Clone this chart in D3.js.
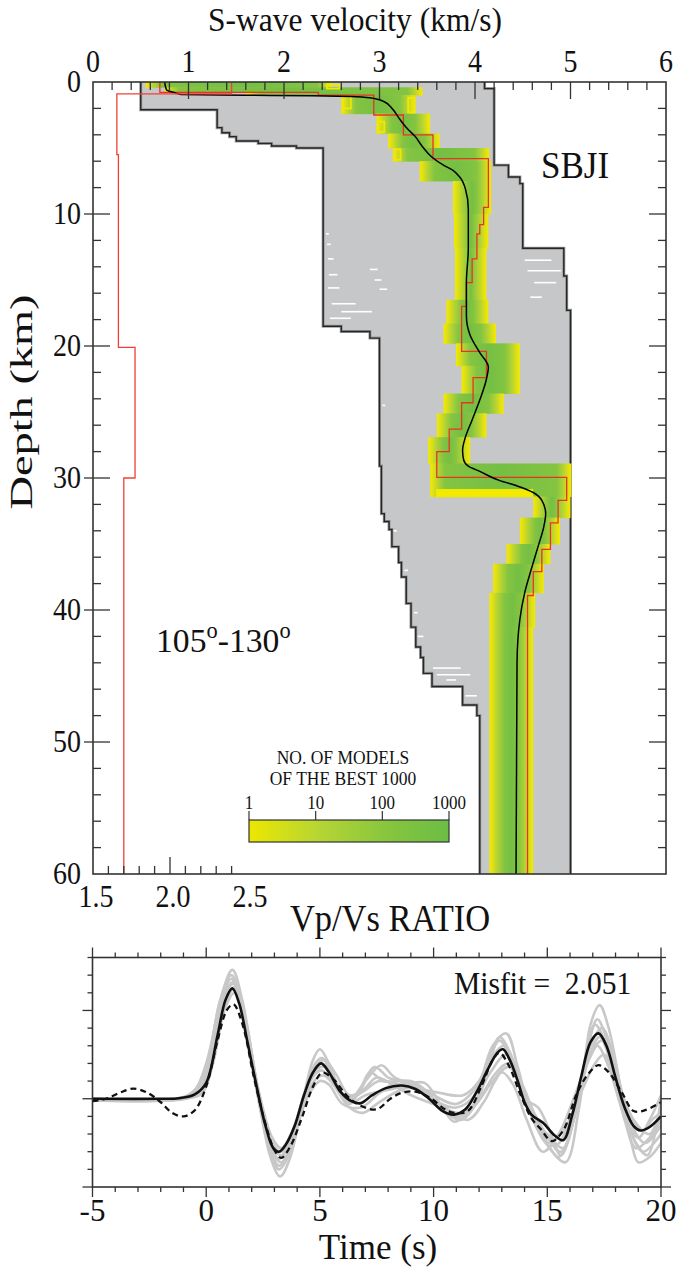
<!DOCTYPE html>
<html><head><meta charset="utf-8">
<script src="https://cdn.jsdelivr.net/npm/d3@7"></script>
<style>
body{margin:0;background:#fff}
text{font-family:"Liberation Serif","Times New Roman",serif;fill:#111}
</style></head>
<body><svg id="c" width="685" height="1272"></svg>
<script>
// ---------------- DATA ----------------
const velocityTicks = [0,1,2,3,4,5,6];
const depthTicks = [0,10,20,30,40,50,60];
const vpvsTicks = [1.5,2.0,2.5];
const timeTicks = [-5,0,5,10,15,20];
const legendTicks = ["1","10","100","1000"];

// gray envelope (all tested models): layers [topDepth, bottomDepth, velocity]
const grayLeftTop    = [0,2.1,3.46,3.84,4.14,4.47,4.65,4.85,5.0,18.5,18.9,19.4,29.1,32.7,33.3,33.9,35.2,36.4,37.5,39.5,41.3,42.8,43.6,44.8,45.8,47.2,48.0];
const grayLeftBottom = [2.1,3.46,3.84,4.14,4.47,4.65,4.85,5.0,18.5,18.9,19.4,29.1,32.7,33.3,33.9,35.2,36.4,37.5,39.5,41.3,42.8,43.6,44.8,45.8,47.2,48.0,60];
const grayLeftVel    = [0.50,1.30,1.35,1.43,1.50,1.73,1.87,2.13,2.41,2.60,2.90,3.00,3.02,3.05,3.10,3.13,3.20,3.23,3.28,3.33,3.38,3.43,3.46,3.55,3.87,4.02,4.05];
const grayRightTop    = [0,0.5,6.3,7.2,7.7,12.6,14.7,17.3];
const grayRightBottom = [0.5,6.3,7.2,7.7,12.6,14.7,17.3,60];
const grayRightVel    = [4.10,4.20,4.35,4.47,4.50,4.93,4.96,5.00];
// white gaps inside the envelope: [depth, v from, v to]
const gapDepth = [11.5,12.3,13.4,14.6,15.6,16.8,17.4,17.9,14.2,15.0,15.7,44.4,44.9,45.3,46.5,40.2,42.0,24.5,34.0,37.0,13.5,14.3,15.2,16.3];
const gapFrom  = [2.44,2.45,2.46,2.47,2.46,2.50,2.60,2.48,2.90,2.95,3.00,3.56,3.60,3.70,3.90,3.36,3.40,3.03,3.14,3.26,4.52,4.55,4.62,4.58];
const gapTo    = [2.47,2.49,2.52,2.56,2.58,2.75,2.92,2.70,2.98,3.02,3.08,3.85,3.95,3.80,4.02,3.40,3.46,3.06,3.18,3.30,4.80,4.90,4.85,4.70];

// density band of the best 1000 models: [top, bottom, left v, right v]
const bandTop    = [0,0.4,0.8,1.0,2.4,3.9,5.0,6.0,7.5,10,12.6,16.5,18.3,19.8,21.5,23.6,25.1,26.9,28.9,31.4,33.0,35.0,36.5,38.7,41.3];
const bandBottom = [0.4,0.8,1.0,2.4,3.9,5.0,6.0,7.5,10,12.6,16.5,18.3,19.8,21.5,23.6,25.1,26.9,28.9,31.4,33.0,35.0,36.5,38.7,41.3,60];
const bandLeft   = [0.55,0.75,1.60,2.60,2.97,3.09,3.14,3.42,3.77,3.78,3.79,3.70,3.67,3.80,3.86,3.67,3.60,3.51,3.53,4.61,4.47,4.33,4.19,4.15,4.15];
const bandRight  = [2.50,3.45,3.45,3.37,3.53,3.63,4.15,4.17,4.17,4.14,4.12,4.14,4.22,4.47,4.47,4.30,4.12,3.95,5.01,5.00,4.89,4.79,4.72,4.63,4.61];
// yellow rims of rarely sampled models: [top, bottom, left v, right v]
const rimTop    = [30.9,0.2,1.1,3.0,5.1,1.2];
const rimBottom = [31.4,0.5,2.0,3.8,5.9,2.3];
const rimLeft   = [3.60,2.45,2.62,2.98,3.16,3.30];
const rimRight  = [4.60,2.58,2.70,3.05,3.22,3.37];

// best model Vs (red step): layer tops and velocities
const bestTop = [0,0.78,1.0,2.5,4.0,5.8,9.5,10.8,11.5,13.4,15.2,17.0,20.4,22.4,24.3,26.3,28.0,29.95,31.7,33.4,35.4,37.1,38.9];
const bestVel = [0.70,2.36,2.94,3.25,3.56,4.14,4.09,4.05,4.02,3.97,3.91,3.86,4.12,3.98,3.86,3.73,3.60,4.96,4.87,4.79,4.70,4.61,4.55];

// mean model (black smooth)
const meanDepth = [0,0.6,0.8,0.95,1.0,1.05,1.1,1.2,1.5,2.0,2.8,3.6,4.1,4.9,5.7,6.3,6.7,7.2,8.1,9.6,12.6,15.2,17.7,19.2,20.5,21.6,22.5,24.1,25.6,26.9,27.9,28.6,29.1,29.5,30.2,30.6,31.1,31.7,32.7,33.7,35.2,36.9,38.7,40.7,44,60];
const meanVel   = [0.75,0.77,0.85,0.92,1.6,2.3,2.7,2.9,3.05,3.13,3.21,3.30,3.37,3.45,3.55,3.67,3.77,3.84,3.90,3.93,3.93,3.91,3.91,3.95,4.05,4.14,4.12,4.05,3.97,3.90,3.87,3.88,3.93,4.05,4.26,4.44,4.61,4.70,4.74,4.72,4.66,4.59,4.52,4.47,4.44,4.43];

// Vp/Vs ratio (red step)
const vpvsTop = [0,0.9,5.5,20.1,30.0];
const vpvsVal = [2.40,1.655,1.665,1.773,1.70];

// receiver functions
const obsWave = [[-5,0],[-2,0],[-1.2,0.003],[-0.5,0.025],[0,0.09],[0.5,0.36],[0.85,0.56],[1.15,0.625],[1.45,0.54],[1.8,0.33],[2.2,0.08],[2.6,-0.15],[2.95,-0.28],[3.2,-0.30],[3.5,-0.26],[3.9,-0.15],[4.3,0.02],[4.7,0.15],[5.05,0.2],[5.4,0.15],[5.9,0.04],[6.4,-0.015],[6.8,-0.025],[7.3,0.02],[7.9,0.06],[8.6,0.075],[9.2,0.055],[9.8,0.0],[10.4,-0.07],[10.9,-0.09],[11.4,-0.06],[11.9,0.04],[12.4,0.17],[12.8,0.26],[13.05,0.28],[13.35,0.22],[13.7,0.1],[14.0,-0.02],[14.3,-0.09],[14.8,-0.135],[15.3,-0.205],[15.7,-0.235],[16.1,-0.09],[16.5,0.13],[16.9,0.32],[17.25,0.37],[17.6,0.3],[18.0,0.12],[18.4,-0.05],[18.8,-0.155],[19.1,-0.18],[19.5,-0.16],[20,-0.1]];
const dashWave = [[-5,-0.013],[-4.4,0],[-3.8,0.034],[-3.2,0.057],[-2.6,0.035],[-2.0,-0.02],[-1.5,-0.08],[-1.0,-0.1],[-0.5,-0.065],[0,0.07],[0.5,0.33],[0.9,0.5],[1.2,0.535],[1.6,0.42],[2.1,0.12],[2.6,-0.14],[3.0,-0.29],[3.3,-0.335],[3.7,-0.27],[4.2,-0.11],[4.7,0.07],[5.1,0.147],[5.6,0.11],[6.2,0.015],[6.8,-0.04],[7.5,-0.06],[8.1,0.0],[8.6,0.034],[9.2,0.04],[9.9,0.0],[10.5,-0.06],[10.9,-0.08],[11.5,-0.07],[12.1,0.07],[12.6,0.22],[12.9,0.26],[13.3,0.19],[13.8,0.03],[14.3,-0.11],[14.7,-0.17],[15.2,-0.24],[15.7,-0.18],[16.3,0.03],[16.8,0.14],[17.25,0.19],[17.7,0.15],[18.3,0.03],[18.8,-0.07],[19.3,-0.065],[20,-0.02]];
const grayWave1 = [[-5,0],[-1.5,0],[-0.6,0.03],[0,0.18],[0.6,0.55],[1.15,0.73],[1.6,0.55],[2.2,0.1],[2.8,-0.32],[3.25,-0.44],[3.7,-0.33],[4.3,0.02],[4.7,0.22],[5.0,0.28],[5.4,0.2],[6.0,0.03],[6.6,0.02],[7.4,0.18],[8.0,0.12],[8.5,0.1],[9.3,0.06],[10.2,-0.02],[11.0,-0.05],[11.8,0.02],[12.6,0.3],[13.2,0.37],[13.7,0.18],[14.3,-0.1],[15.1,-0.28],[15.8,-0.36],[16.4,-0.05],[16.9,0.42],[17.3,0.53],[17.7,0.4],[18.3,0.0],[18.7,-0.25],[19.0,-0.36],[19.5,-0.33],[20,-0.25]];
const grayWave2 = [[-5,-0.01],[-1.2,0],[-0.5,0.05],[0,0.2],[0.6,0.52],[1.1,0.68],[1.6,0.5],[2.2,0.06],[2.8,-0.3],[3.2,-0.40],[3.7,-0.3],[4.3,0.0],[4.8,0.2],[5.1,0.23],[5.6,0.12],[6.2,-0.02],[7.0,0.1],[7.7,0.19],[8.3,0.12],[9.5,0.06],[10.4,-0.06],[11.2,-0.12],[11.9,-0.02],[12.5,0.22],[12.9,0.35],[13.4,0.25],[14.0,0.0],[14.6,-0.15],[15.5,-0.33],[16.2,-0.1],[16.8,0.3],[17.2,0.45],[17.7,0.3],[18.4,-0.08],[19.2,-0.30],[20,-0.2]];
const grayWave3 = [[-5,0],[-1.0,0],[-0.3,0.04],[0.2,0.22],[0.7,0.55],[1.2,0.65],[1.7,0.45],[2.3,0.02],[2.9,-0.3],[3.3,-0.36],[3.8,-0.24],[4.4,0.05],[4.9,0.17],[5.2,0.18],[5.7,0.08],[6.3,-0.03],[6.8,0.06],[7.2,0.15],[7.8,0.1],[9.0,0.1],[10.0,0.02],[11.0,-0.03],[11.8,0.05],[12.6,0.24],[13.1,0.30],[13.6,0.18],[14.2,-0.06],[14.9,-0.2],[15.6,-0.30],[16.3,-0.05],[16.9,0.3],[17.4,0.40],[17.9,0.25],[18.6,-0.12],[19.3,-0.25],[20,-0.15]];
const grayWave4 = [[-5,-0.005],[-1.0,0],[-0.2,0.03],[0.3,0.2],[0.8,0.5],[1.25,0.60],[1.7,0.44],[2.3,0.04],[2.9,-0.27],[3.3,-0.32],[3.8,-0.22],[4.4,0.02],[4.9,0.12],[5.2,0.13],[5.8,0.05],[6.4,-0.02],[7.0,0.02],[8.0,0.05],[9.2,0.07],[10.3,-0.03],[11.5,-0.12],[12.2,-0.02],[12.7,0.1],[13.0,0.15],[13.5,0.08],[14.1,-0.12],[14.8,-0.30],[15.5,-0.2],[16.3,0.05],[16.9,0.24],[17.2,0.30],[17.7,0.18],[18.4,-0.1],[19.0,-0.22],[19.5,-0.12],[20,0.02]];
const grayWave5 = [[-5,0],[-0.9,0],[-0.2,0.05],[0.3,0.25],[0.8,0.52],[1.2,0.62],[1.7,0.45],[2.3,0.03],[2.9,-0.25],[3.3,-0.30],[3.9,-0.18],[4.5,0.02],[5.0,0.10],[5.4,0.08],[6.0,-0.03],[6.8,-0.05],[7.6,0.03],[8.5,0.10],[9.4,0.05],[10.2,-0.05],[11.0,-0.10],[11.8,-0.04],[12.6,0.1],[13.3,0.18],[13.9,0.05],[14.4,-0.12],[15.0,-0.25],[15.7,-0.18],[16.5,0.04],[17.1,0.2],[17.5,0.25],[18.0,0.12],[18.8,-0.12],[19.5,-0.2],[20,-0.05]];
const grayWave6 = [[-5,0],[-1.3,0],[-0.5,0.04],[0.1,0.2],[0.6,0.5],[1.15,0.66],[1.6,0.5],[2.2,0.08],[2.8,-0.28],[3.2,-0.38],[3.7,-0.28],[4.3,0.0],[4.8,0.17],[5.1,0.20],[5.6,0.12],[6.2,0.0],[6.9,0.04],[7.6,0.10],[8.6,0.08],[9.6,0.09],[10.3,-0.03],[10.9,-0.13],[11.6,-0.06],[12.5,0.15],[13.2,0.25],[13.8,0.1],[14.4,-0.12],[15.0,-0.2],[15.7,-0.28],[16.3,-0.04],[16.9,0.26],[17.3,0.35],[17.8,0.2],[18.4,-0.12],[18.9,-0.28],[19.5,-0.22],[20,-0.12]];
const grayWave7 = [[-5,0],[-1.1,0],[-0.4,0.05],[0.1,0.22],[0.6,0.55],[1.1,0.70],[1.6,0.52],[2.2,0.07],[2.8,-0.26],[3.2,-0.34],[3.7,-0.25],[4.3,0.02],[4.8,0.14],[5.1,0.16],[5.6,0.08],[6.3,-0.05],[6.9,-0.08],[7.6,-0.02],[8.8,0.06],[10.0,0.04],[11.3,0.02],[12.0,0.1],[12.5,0.25],[12.9,0.33],[13.4,0.22],[14.0,0.0],[14.6,-0.05],[15.1,-0.18],[15.6,-0.32],[16.2,-0.1],[16.7,0.25],[17.1,0.42],[17.6,0.3],[18.3,-0.05],[18.9,-0.25],[19.4,-0.32],[20,0.0]];
const grayWave8 = [[-5,0],[-1.2,0],[-0.4,0.03],[0.2,0.2],[0.7,0.5],[1.2,0.63],[1.7,0.46],[2.3,0.05],[2.9,-0.22],[3.3,-0.28],[3.8,-0.18],[4.3,0.02],[4.8,0.18],[5.2,0.22],[5.7,0.14],[6.3,0.02],[6.9,0.05],[7.5,0.12],[8.2,0.08],[9.0,0.02],[10.2,-0.04],[11.2,-0.08],[12.0,0.0],[12.7,0.14],[13.3,0.20],[13.9,0.08],[14.5,-0.1],[15.4,-0.26],[16.1,-0.08],[16.8,0.22],[17.4,0.33],[17.9,0.2],[18.6,-0.08],[19.2,-0.18],[19.6,-0.12],[20,-0.08]];
const grayWaves = [grayWave1,grayWave2,grayWave3,grayWave4,grayWave5,grayWave6,grayWave7,grayWave8];

// ---------------- DRAWING ----------------
const svg = d3.select("#c");
const P = {l:93, r:666, t:82, b:874};
const x = d3.scaleLinear().domain([0,6]).range([P.l,P.r]);
const y = d3.scaleLinear().domain([0,60]).range([P.t,P.b]);
const xr = d3.scaleLinear().domain([1.5,2.5]).range([P.l,247]);

const defs = svg.append("defs");
const lg = defs.append("linearGradient").attr("id","legGrad").attr("x1","0").attr("x2","1").attr("y1","0").attr("y2","0");
[[0,"#ece700"],[0.35,"#b6d534"],[0.7,"#86c53e"],[1,"#6cbd45"]].forEach(s=>lg.append("stop").attr("offset",s[0]).attr("stop-color",s[1]));
defs.append("clipPath").attr("id","clipTop").append("rect").attr("x",P.l).attr("y",P.t).attr("width",P.r-P.l).attr("height",P.b-P.t);

// one gradient per band layer so the yellow fringe keeps a fixed pixel width
bandTop.forEach((t,i)=>{
  const w = x(bandRight[i])-x(bandLeft[i]);
  const f1=Math.min(0.2,3/w), f2=Math.min(0.3,8/w), f3=Math.min(0.45,15/w);
  const g = defs.append("linearGradient").attr("id","bg"+i).attr("x1","0").attr("x2","1").attr("y1","0").attr("y2","0");
  [[0,"#f2ea00"],[f1,"#e2e112"],[f2,"#b4d334"],[f3,"#84c441"],[0.5,"#74bf44"],[1-f3,"#84c441"],[1-f2,"#b4d334"],[1-f1,"#e2e112"],[1,"#f2ea00"]]
    .forEach(s=>g.append("stop").attr("offset",s[0]).attr("stop-color",s[1]));
});

const gTop = svg.append("g").attr("clip-path","url(#clipTop)");

// gray envelope polygon
function stepPts(tops,bots,vals){ const pts=[]; tops.forEach((t,i)=>{pts.push([vals[i],t]);pts.push([vals[i],bots[i]]);}); return pts; }
const leftPts = stepPts(grayLeftTop,grayLeftBottom,grayLeftVel);
const rightPts = stepPts(grayRightTop,grayRightBottom,grayRightVel);
const poly = leftPts.concat(rightPts.slice().reverse());
const stepLine = d3.line().x(d=>x(d[0])).y(d=>y(d[1]));
gTop.append("path").attr("d", stepLine(poly)+"Z").attr("fill","#c6c7c9");
gTop.selectAll("line.gap").data(gapDepth).join("line").attr("class","gap")
  .attr("x1",(d,i)=>x(gapFrom[i])).attr("x2",(d,i)=>x(gapTo[i])).attr("y1",d=>y(d)).attr("y2",d=>y(d))
  .attr("stroke","#fff").attr("stroke-width",1.6);
[leftPts,rightPts].forEach(p=>{
  gTop.append("path").attr("d",stepLine(p)).attr("fill","none").attr("stroke","#9a9a9a").attr("stroke-width",3);
  gTop.append("path").attr("d",stepLine(p)).attr("fill","none").attr("stroke","#262626").attr("stroke-width",1.4);
});

// density band
gTop.selectAll("rect.band").data(bandTop).join("rect").attr("class","band")
  .attr("x",(d,i)=>x(bandLeft[i])).attr("width",(d,i)=>x(bandRight[i])-x(bandLeft[i]))
  .attr("y",d=>y(d)).attr("height",(d,i)=>y(bandBottom[i])-y(d)+0.5)
  .attr("fill",(d,i)=>`url(#bg${i})`);
gTop.selectAll("rect.rim").data(rimTop).join("rect").attr("class","rim")
  .attr("x",(d,i)=>x(rimLeft[i])).attr("width",(d,i)=>x(rimRight[i])-x(rimLeft[i]))
  .attr("y",d=>y(d)).attr("height",(d,i)=>y(rimBottom[i])-y(d))
  .attr("fill","none").attr("stroke","#f0e800").attr("stroke-width",1.8);
gTop.append("rect").attr("x",x(rimLeft[0])).attr("width",x(rimRight[0])-x(rimLeft[0]))
  .attr("y",y(rimTop[0])).attr("height",y(rimBottom[0])-y(rimTop[0])).attr("fill","#f2ea00");

// best-model red step
const bestPts=[]; bestTop.forEach((t,i)=>{const b=i<bestTop.length-1?bestTop[i+1]:60; bestPts.push([bestVel[i],t]); bestPts.push([bestVel[i],b]);});
gTop.append("path").attr("d",stepLine(bestPts)).attr("fill","none").attr("stroke","#ea3323").attr("stroke-width",1.3);

// mean black line
gTop.append("path").datum(meanDepth.map((d,i)=>[meanVel[i],d]))
  .attr("d",d3.line().x(d=>x(d[0])).y(d=>y(d[1])).curve(d3.curveMonotoneY))
  .attr("fill","none").attr("stroke","#000").attr("stroke-width",1.5);

// Vp/Vs red step
const vpPts=[]; vpvsTop.forEach((t,i)=>{const b=i<vpvsTop.length-1?vpvsTop[i+1]:60; vpPts.push([vpvsVal[i],t]); vpPts.push([vpvsVal[i],b]);});
gTop.append("path").attr("d",d3.line().x(d=>xr(d[0])).y(d=>y(d[1]))(vpPts)).attr("fill","none").attr("stroke","#ef4036").attr("stroke-width",1.3);

// frame and ticks
const axCol="#333";
svg.append("rect").attr("x",P.l).attr("y",P.t).attr("width",P.r-P.l).attr("height",P.b-P.t).attr("fill","none").attr("stroke",axCol).attr("stroke-width",1.6);
const tk = svg.append("g").attr("stroke",axCol).attr("stroke-width",1.3);
d3.range(0,6.001,0.2).forEach(v=>{const major=Math.abs(v-Math.round(v))<1e-6; if(v<=0.01||v>=5.99)return;
  tk.append("line").attr("x1",x(v)).attr("x2",x(v)).attr("y1",P.t).attr("y2",P.t+(major?17:8));});
d3.range(0,60.001,2).forEach(d=>{const major=d%10===0; if(d<=0||d>=60)return;
  tk.append("line").attr("x1",P.l-(major?9:0)).attr("x2",P.l+(major?17:8)).attr("y1",y(d)).attr("y2",y(d));
  tk.append("line").attr("x1",P.r).attr("x2",P.r-(major?17:8)).attr("y1",y(d)).attr("y2",y(d));});
d3.range(1.6,2.401,0.1).forEach(r=>{const major=Math.abs(r-2)<1e-6;
  tk.append("line").attr("x1",xr(r)).attr("x2",xr(r)).attr("y1",P.b).attr("y2",P.b-(major?17:8));});

// text helper: position via transform so glyphs can be stretched like the original
function T(px,py,size,anchor,sx,sy,rot){
  return svg.append("text").attr("transform",`translate(${px},${py})`+(rot?` rotate(${rot})`:"")+` scale(${sx||1},${sy||1})`)
    .attr("font-size",size).attr("text-anchor",anchor||"start");
}
velocityTicks.forEach(d=>T(x(d),72,28,"middle",1,1.12).text(d));
depthTicks.forEach(d=>T(81,y(d)+10,28,"end",1,1.12).text(d));
vpvsTicks.forEach(d=>T(xr(d)+3,907,28,"middle",1,1.12).text(d.toFixed(1)));
T(355,31,31.5,"middle",1,1.08).text("S-wave velocity (km/s)");
T(32,402,32,"middle",1.45,1,-90).text("Depth (km)");
T(390,931,34.5,"middle",1,1.08).text("Vp/Vs RATIO");
T(541,178,35,"start",1,1.08).text("SBJI");
const deg = T(156,652,33,"start",1.02,1.05);
deg.append("tspan").text("105");
deg.append("tspan").attr("dy",-13).attr("font-size",22).text("o");
deg.append("tspan").attr("dy",13).text("-130");
deg.append("tspan").attr("dy",-13).attr("font-size",22).text("o");

// legend
const L = {x0:249,x1:449,y0:820,y1:842};
T(343,764,17.5,"middle",1,1.12).text("NO. OF MODELS");
T(343,785,17.5,"middle",1,1.12).text("OF THE BEST 1000");
svg.append("rect").attr("x",L.x0).attr("y",L.y0).attr("width",L.x1-L.x0).attr("height",L.y1-L.y0).attr("fill","url(#legGrad)").attr("stroke","#333").attr("stroke-width",1.2);
const lx = d3.scaleLog().domain([1,1000]).range([L.x0,L.x1]);
legendTicks.forEach(t=>{
  svg.append("line").attr("x1",lx(+t)).attr("x2",lx(+t)).attr("y1",L.y0).attr("y2",L.y0-9).attr("stroke","#333").attr("stroke-width",1.2);
  T(lx(+t),809,17,"middle",1,1.12).text(t);
});

// ---------------- BOTTOM PANEL ----------------
const B = {l:92.5, r:661, t:957.5, b:1187};
const xt = d3.scaleLinear().domain([-5,20]).range([B.l,B.r]);
const ya = d3.scaleLinear().domain([-0.5,0.8]).range([B.b,B.t]);
defs.append("clipPath").attr("id","clipBot").append("rect").attr("x",B.l).attr("y",B.t).attr("width",B.r-B.l).attr("height",B.b-B.t);
const gB = svg.append("g").attr("clip-path","url(#clipBot)");
const wl = d3.line().x(d=>xt(d[0])).y(d=>ya(d[1])).curve(d3.curveCatmullRom.alpha(0.5));
gB.selectAll("path.gw").data(grayWaves).join("path").attr("class","gw").attr("d",wl)
  .attr("fill","none").attr("stroke","#c8c8c8").attr("stroke-width",2.6);
gB.append("path").datum(dashWave).attr("d",wl).attr("fill","none").attr("stroke","#111").attr("stroke-width",2.3).attr("stroke-dasharray","6,4");
gB.append("path").datum(obsWave).attr("d",wl).attr("fill","none").attr("stroke","#111").attr("stroke-width",2.6);

svg.append("rect").attr("x",B.l).attr("y",B.t).attr("width",B.r-B.l).attr("height",B.b-B.t).attr("fill","none").attr("stroke",axCol).attr("stroke-width",1.6);
const tb = svg.append("g").attr("stroke",axCol).attr("stroke-width",1.3);
d3.range(-5,20.001,1).forEach(t=>{const major=t%5===0; const L2=major?10:5;
  tb.append("line").attr("x1",xt(t)).attr("x2",xt(t)).attr("y1",B.t).attr("y2",B.t-L2);
  tb.append("line").attr("x1",xt(t)).attr("x2",xt(t)).attr("y1",B.b).attr("y2",B.b+L2);});
d3.range(-5,8.001,1).forEach(k=>{const a=k/10; const major=(k%5===0); const L2=major?10:5;
  tb.append("line").attr("x1",B.l).attr("x2",B.l-L2).attr("y1",ya(a)).attr("y2",ya(a));
  tb.append("line").attr("x1",B.r).attr("x2",B.r+L2).attr("y1",ya(a)).attr("y2",ya(a));});
timeTicks.forEach(d=>T(xt(d),1221,31,"middle",1,1.05).text(d));
T(378,1259,35,"middle",1,1.0).text("Time (s)");
T(454,994,29.5,"start",1,1.05).attr("xml:space","preserve").text("Misfit =  2.051");
</script></body></html>
